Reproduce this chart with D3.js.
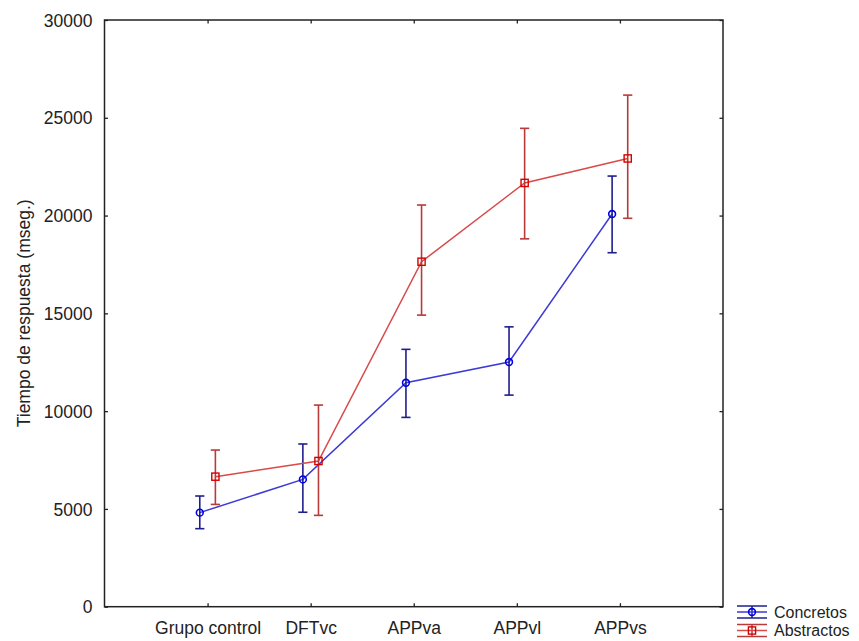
<!DOCTYPE html>
<html><head><meta charset="utf-8">
<script src="https://cdn.jsdelivr.net/npm/d3@7"></script>
<style>body{margin:0;background:#fff;} svg{display:block;}</style>
</head><body>
<svg id="c" width="859" height="641"></svg>
<script>
const categories = ["Grupo control","DFTvc","APPva","APPvl","APPvs"];
const yTicks = [0,5000,10000,15000,20000,25000,30000];
const concretosMean = [4810, 6510, 11450, 12510, 20080];
const concretosLow  = [3990, 4830, 9680, 10820, 18100];
const concretosHigh = [5660, 8320, 13160, 14310, 22020];
const abstractosMean = [6650, 7450, 17640, 21670, 22920];
const abstractosLow  = [5230, 4670, 14910, 18810, 19860];
const abstractosHigh = [8010, 10310, 20540, 24460, 26160];
const seriesNames = ["Concretos","Abstractos"];

const svg = d3.select("#c");
const L=104.5, R=723, T=20, B=606.7;
const font = "'Liberation Sans', Arial, sans-serif";
const x = d3.scalePoint().domain(categories).range([L,R]).padding(1);
const y = d3.scaleLinear().domain([0,30000]).range([B,T]);

const series = [
  {name:seriesNames[0], mean:concretosMean, lo:concretosLow, hi:concretosHigh, off:-7.8,
   line:"#3b3bd6", err:"#1f1f8c", mk:"#0000e6", shape:"circle"},
  {name:seriesNames[1], mean:abstractosMean, lo:abstractosLow, hi:abstractosHigh, off:7.8,
   line:"#d94a4a", err:"#b83a3a", mk:"#d40000", shape:"square"}
];

// frame
svg.append("rect").attr("x",L).attr("y",T).attr("width",R-L).attr("height",B-T)
  .attr("fill","none").attr("stroke","#222").attr("stroke-width",1.5);

// axes with inward ticks
const gl = svg.append("g").attr("transform",`translate(${L},0)`)
  .call(d3.axisLeft(y).tickValues(yTicks).tickFormat(d3.format("d")).tickSizeInner(-3.5).tickSizeOuter(0).tickPadding(12));
const gr = svg.append("g").attr("transform",`translate(${R},0)`)
  .call(d3.axisRight(y).tickValues(yTicks).tickFormat("").tickSizeInner(-3.5).tickSizeOuter(0));
const gb = svg.append("g").attr("transform",`translate(0,${B})`)
  .call(d3.axisBottom(x).tickSizeInner(-3.5).tickSizeOuter(0).tickPadding(15));
const gt = svg.append("g").attr("transform",`translate(0,${T})`)
  .call(d3.axisTop(x).tickFormat("").tickSizeInner(-3.5).tickSizeOuter(0));
[gl,gr,gb,gt].forEach(g=>{
  g.select(".domain").remove();
  g.selectAll(".tick line").attr("stroke","#222").attr("stroke-width",1.3);
  g.selectAll("text").attr("fill","#222").style("font-family",font).style("font-size","17.5px");
});
gl.selectAll("text").attr("dy","0.35em");
gb.selectAll("text").attr("dy","0.71em");

// y-axis title
svg.append("text").attr("transform",`translate(29.5,${(T+B)/2}) rotate(-90)`)
  .attr("text-anchor","middle").attr("fill","#222")
  .style("font-family",font).style("font-size","17.5px")
  .text("Tiempo de respuesta (mseg.)");

const cap = 4.6;
series.forEach(s=>{
  const pts = categories.map((c,i)=>({x:x(c)+s.off, m:s.mean[i], lo:s.lo[i], hi:s.hi[i]}));
  svg.append("path").datum(pts)
    .attr("d", d3.line().x(d=>d.x).y(d=>y(d.m)))
    .attr("fill","none").attr("stroke",s.line).attr("stroke-width",1.5);
  const g = svg.append("g");
  pts.forEach(p=>{
    g.append("line").attr("x1",p.x).attr("x2",p.x).attr("y1",y(p.lo)).attr("y2",y(p.hi))
      .attr("stroke",s.err).attr("stroke-width",1.6);
    [p.lo,p.hi].forEach(v=>g.append("line").attr("x1",p.x-cap).attr("x2",p.x+cap)
      .attr("y1",y(v)).attr("y2",y(v)).attr("stroke",s.err).attr("stroke-width",1.6));
    if(s.shape==="circle"){
      g.append("circle").attr("cx",p.x).attr("cy",y(p.m)).attr("r",3.4)
        .attr("fill","none").attr("stroke",s.mk).attr("stroke-width",1.6);
    } else {
      g.append("rect").attr("x",p.x-3.6).attr("y",y(p.m)-3.6).attr("width",7.2).attr("height",7.2)
        .attr("fill","none").attr("stroke",s.mk).attr("stroke-width",1.4);
    }
  });
});

// legend
const legY = [612, 630.5];
series.forEach((s,i)=>{
  const cy = legY[i], cx = 752, g = svg.append("g");
  [cy-6, cy+6].forEach(yy=>g.append("line").attr("x1",cx-15).attr("x2",cx+15).attr("y1",yy).attr("y2",yy)
      .attr("stroke",s.err).attr("stroke-width",1.5));
  g.append("line").attr("x1",cx).attr("x2",cx).attr("y1",cy-6).attr("y2",cy+6).attr("stroke",s.err).attr("stroke-width",1.5);
  g.append("line").attr("x1",cx-15).attr("x2",cx+15).attr("y1",cy).attr("y2",cy).attr("stroke",s.line).attr("stroke-width",1.5);
  if(s.shape==="circle"){
    g.append("circle").attr("cx",cx).attr("cy",cy).attr("r",3.4).attr("fill","none").attr("stroke",s.mk).attr("stroke-width",1.6);
  } else {
    g.append("rect").attr("x",cx-3.6).attr("y",cy-3.6).attr("width",7.2).attr("height",7.2).attr("fill","none").attr("stroke",s.mk).attr("stroke-width",1.4);
  }
  svg.append("text").attr("x",774).attr("y",cy).attr("dy","0.36em").attr("fill","#222")
    .style("font-family",font).style("font-size","16px").text(s.name);
});
</script>
</body></html>
